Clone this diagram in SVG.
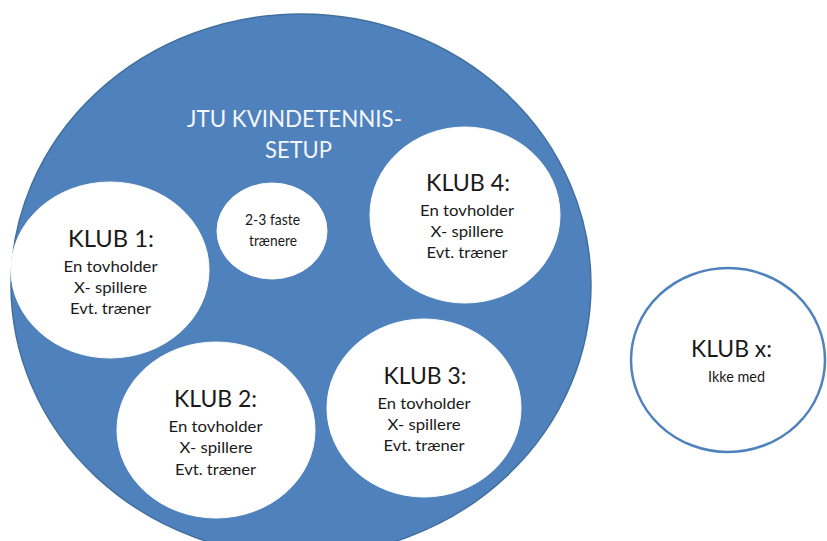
<svg xmlns="http://www.w3.org/2000/svg" width="827" height="541" viewBox="0 0 827 541">
<style>
  .t { font-family: Lato, "Liberation Sans", "DejaVu Sans", sans-serif; text-anchor: middle; fill: #1a1a1a; }
  .head { font-size: 22.5px; }
  .body { font-size: 16px; }
  .title { font-size: 23.5px; fill: #f4f6fa; }
  .inner { fill: #ffffff; stroke: #ffffff; stroke-width: 1; }
</style>
<rect x="0" y="0" width="827" height="541" fill="#ffffff"/>

<g id="setup">
  <ellipse cx="301" cy="285" rx="290" ry="271" fill="#4f81bd" stroke="#41709f" stroke-width="1.5"/>
  <text class="t title" x="294.5" y="127" textLength="215" lengthAdjust="spacingAndGlyphs">JTU KVINDETENNIS-</text>
  <text class="t title" x="298.5" y="158" textLength="67" lengthAdjust="spacingAndGlyphs">SETUP</text>
</g>

<g id="klub1">
  <ellipse class="inner" cx="110" cy="270" rx="99" ry="88"/>
  <text class="t head" x="111" y="247" textLength="86" lengthAdjust="spacingAndGlyphs">KLUB 1:</text>
  <text class="t body" x="110.5" y="272" textLength="94" lengthAdjust="spacingAndGlyphs">En tovholder</text>
  <text class="t body" x="110.5" y="293" textLength="73" lengthAdjust="spacingAndGlyphs">X- spillere</text>
  <text class="t body" x="110.5" y="314" textLength="81" lengthAdjust="spacingAndGlyphs">Evt. træner</text>
</g>

<g id="faste">
  <ellipse class="inner" cx="272" cy="231" rx="55" ry="48"/>
  <text class="t body" x="272.5" y="225" textLength="55" lengthAdjust="spacingAndGlyphs">2-3 faste</text>
  <text class="t body" x="273" y="246" textLength="48" lengthAdjust="spacingAndGlyphs">trænere</text>
</g>

<g id="klub4">
  <ellipse class="inner" cx="465" cy="215" rx="95" ry="88"/>
  <text class="t head" x="468" y="191" textLength="84" lengthAdjust="spacingAndGlyphs">KLUB 4:</text>
  <text class="t body" x="467" y="216" textLength="94" lengthAdjust="spacingAndGlyphs">En tovholder</text>
  <text class="t body" x="467" y="237" textLength="73" lengthAdjust="spacingAndGlyphs">X- spillere</text>
  <text class="t body" x="467" y="258" textLength="81" lengthAdjust="spacingAndGlyphs">Evt. træner</text>
</g>

<g id="klub2">
  <ellipse class="inner" cx="216" cy="430" rx="99" ry="88"/>
  <text class="t head" x="215.5" y="407" textLength="83" lengthAdjust="spacingAndGlyphs">KLUB 2:</text>
  <text class="t body" x="215.5" y="432" textLength="94" lengthAdjust="spacingAndGlyphs">En tovholder</text>
  <text class="t body" x="216" y="453" textLength="73" lengthAdjust="spacingAndGlyphs">X- spillere</text>
  <text class="t body" x="215.5" y="475" textLength="81" lengthAdjust="spacingAndGlyphs">Evt. træner</text>
</g>

<g id="klub3">
  <ellipse class="inner" cx="424" cy="408" rx="97" ry="89"/>
  <text class="t head" x="425" y="384" textLength="83" lengthAdjust="spacingAndGlyphs">KLUB 3:</text>
  <text class="t body" x="424" y="409" textLength="93" lengthAdjust="spacingAndGlyphs">En tovholder</text>
  <text class="t body" x="424" y="430" textLength="73" lengthAdjust="spacingAndGlyphs">X- spillere</text>
  <text class="t body" x="424" y="451" textLength="81" lengthAdjust="spacingAndGlyphs">Evt. træner</text>
</g>

<g id="klubx">
  <ellipse cx="728" cy="360" rx="97" ry="92" fill="#ffffff" stroke="#4f81bd" stroke-width="2.5"/>
  <text class="t head" x="731.5" y="357" textLength="81" lengthAdjust="spacingAndGlyphs">KLUB x:</text>
  <text class="t body" x="736.5" y="382" textLength="57" lengthAdjust="spacingAndGlyphs">Ikke med</text>
</g>
</svg>
